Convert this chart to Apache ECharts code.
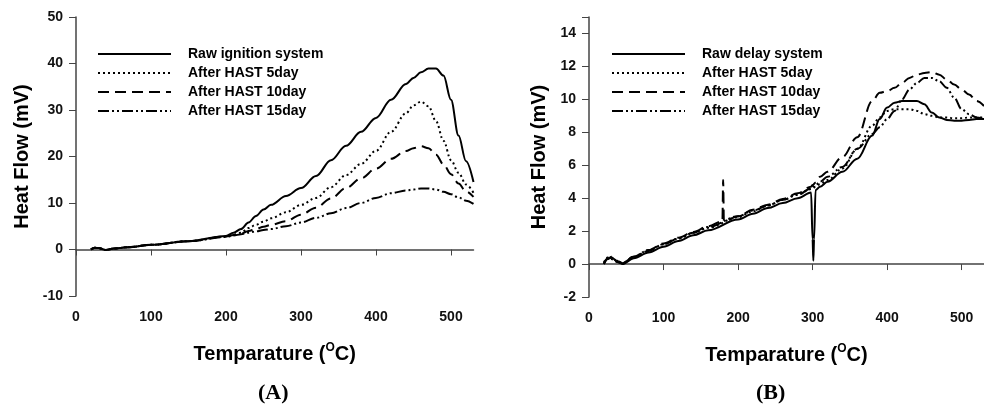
<!DOCTYPE html>
<html>
<head>
<meta charset="utf-8">
<script src="https://cdn.jsdelivr.net/npm/echarts@6/dist/echarts.min.js"></script>
<style>
  html, body { margin: 0; padding: 0; background: #fff; }
  #chart { width: 984px; height: 412px; }
</style>
</head>
<body>
<div id="chart"></div>
<script>
// (A) ignition system
var tempA = [20, 25, 30, 40, 50, 70, 100, 150, 200, 210, 220, 230, 240, 250, 260, 280, 300, 320, 340, 360, 380, 400, 420, 440, 450, 460, 470, 480, 490, 500, 510, 520, 530];
var rawA = [0, 0.4, 0.3, -0.1, 0.2, 0.5, 1.0, 1.8, 2.9, 3.6, 4.4, 5.8, 7.2, 8.6, 9.6, 11.5, 13.2, 15.8, 19.2, 22.3, 25.3, 28.3, 32.2, 35.6, 36.9, 38.1, 38.9, 38.9, 37.4, 32.2, 24.5, 19.0, 14.5];
var day5A = [0, 0.4, 0.3, -0.1, 0.2, 0.5, 1.0, 1.8, 2.8, 3.2, 3.6, 4.6, 5.3, 6.0, 6.7, 8.0, 9.6, 11.1, 13.4, 16.0, 18.4, 21.2, 25.3, 29.3, 31.0, 31.8, 30.8, 27.6, 23.4, 19.2, 16.5, 14.0, 12.2];
var day10A = [0, 0.4, 0.3, -0.1, 0.2, 0.5, 1.0, 1.8, 2.8, 3.1, 3.4, 4.0, 4.4, 4.9, 5.3, 6.1, 7.5, 9.0, 11.0, 13.2, 15.3, 17.4, 19.5, 21.2, 21.8, 22.2, 21.8, 20.4, 18.3, 16.2, 14.2, 12.5, 11.3];
var day15A = [0, 0.4, 0.3, -0.1, 0.2, 0.5, 1.0, 1.8, 2.7, 3.0, 3.3, 3.6, 3.9, 4.2, 4.4, 5.0, 5.8, 6.8, 7.8, 8.9, 10.0, 11.1, 12.1, 12.7, 12.9, 13.1, 13.1, 12.9, 12.4, 11.9, 11.2, 10.5, 9.8];

// (B) delay system
var tempB = [20, 25, 30, 40, 45, 60, 80, 100, 120, 140, 160, 179, 180, 181, 200, 220, 240, 260, 280, 298, 300, 301, 302, 304, 310, 320, 340, 360, 380, 390, 400, 410, 420, 430, 440, 450, 460, 470, 480, 490, 500, 510, 520, 530];
var rawB = [0, 0.3, 0.4, 0.1, 0, 0.35, 0.7, 1.05, 1.4, 1.75, 2.05, null, null, null, 2.7, 3.05, 3.4, 3.7, 4.0, 4.35, 1.5, 0.2, 1.5, 4.5, 4.7, 5.0, 5.6, 6.4, 7.8, 8.8, 9.5, 9.8, 9.9, 9.9, 9.9, 9.7, 9.2, 8.9, 8.75, 8.7, 8.7, 8.75, 8.8, 8.8];
var day5B = [0.1, 0.4, 0.3, 0.1, 0.05, 0.45, 0.85, 1.2, 1.55, 1.9, 2.2, null, null, null, 2.85, 3.2, 3.55, 3.9, 4.25, 4.55, 4.6, null, null, 4.7, 4.85, 5.1, 5.8, 7.0, 8.4, 8.9, 9.3, 9.4, 9.4, 9.4, 9.3, 9.1, 9.0, 8.9, 8.9, 8.85, 8.85, 8.9, 8.9, 8.9];
var day10B = [0, 0.3, 0.45, 0.15, 0.05, 0.45, 0.85, 1.25, 1.6, 1.95, 2.3, 2.6, 5.1, 2.6, 2.9, 3.3, 3.6, 3.95, 4.3, 4.7, 4.8, null, null, 4.95, 5.3, 5.6, 6.5, 7.7, 9.9, 10.4, 10.5, 10.7, 11.0, 11.3, 11.5, 11.6, 11.65, 11.5, 11.2, 10.9, 10.6, 10.3, 9.9, 9.6];
var day15B = [0.05, 0.35, 0.4, 0.1, 0.05, 0.45, 0.8, 1.2, 1.55, 1.9, 2.25, null, null, null, 2.9, 3.25, 3.55, 3.9, 4.2, 4.6, 4.7, null, null, 4.8, 5.0, 5.3, 5.9, 7.0, 7.9, 8.3, 8.8, 9.3, 10.0, 10.6, 11.0, 11.3, 11.3, 11.1, 10.7, 10.1, 9.4, 9.1, 8.9, 8.8];

var namesA = ['Raw ignition system', 'After HAST 5day', 'After HAST 10day', 'After HAST 15day'];
var namesB = ['Raw delay system', 'After HAST 5day', 'After HAST 10day', 'After HAST 15day'];

// 线型: 实线, 点线, 虚线, 点划线
var dashes = ['solid', [2, 3], [11, 6], [11, 3, 2, 3, 2, 3]];

function pairs(xs, ys) {
  var out = [];
  for (var i = 0; i < xs.length; i++) {
    if (ys[i] !== null) out.push([xs[i], ys[i]]);
  }
  return out;
}

function lineSeries(name, idx, xs, ys, style) {
  return {
    name: name,
    type: 'line',
    xAxisIndex: idx,
    yAxisIndex: idx,
    data: pairs(xs, ys),
    symbol: 'none',
    smooth: 0.35,
    smoothMonotone: 'x',
    animation: false,
    itemStyle: { color: '#000' },
    lineStyle: { color: '#000', width: 2, type: style }
  };
}

var font = 'Arial, "Liberation Sans", sans-serif';
var tickText = { color: '#111', fontWeight: 'bold', fontSize: 14, fontFamily: font };

function xAx(idx) {
  return {
    type: 'value', gridIndex: idx, min: 0, max: 530, interval: 100,
    name: 'Temparature ({sup|O}C)',
    nameLocation: 'middle', nameGap: 46,
    nameTextStyle: {
      color: '#000', fontWeight: 'bold', fontSize: 20, fontFamily: font, lineHeight: 24,
      rich: { sup: { fontSize: 12, fontWeight: 'bold', fontFamily: font, verticalAlign: 'top', lineHeight: 14, padding: [0, 0, 8, 0] } }
    },
    axisLine: { lineStyle: { color: '#444', width: 1.5 } },
    axisTick: { show: true, length: 6, lineStyle: { color: '#444' } },
    axisLabel: Object.assign({ margin: 14, showMaxLabel: false }, tickText),
    splitLine: { show: false }
  };
}

function yAx(idx, min, max, step, gap) {
  return {
    type: 'value', gridIndex: idx, min: min, max: max, interval: step,
    name: 'Heat Flow (mV)',
    nameLocation: 'middle', nameGap: gap,
    nameTextStyle: { color: '#000', fontWeight: 'bold', fontSize: 20, fontFamily: font },
    axisLine: { show: true, lineStyle: { color: '#444', width: 1.5 } },
    axisTick: { show: true, length: 7, lineStyle: { color: '#444' } },
    // 顶端不在刻度上的最大值不显示
    axisLabel: Object.assign({ margin: 13, formatter: function (v) { return (v - min) % step === 0 ? v : ''; } }, tickText),
    splitLine: { show: false }
  };
}

function legendAt(left, data) {
  return {
    left: left, top: 42, orient: 'vertical',
    itemWidth: 73, itemHeight: 14, itemGap: 5,
    data: data,
    itemStyle: { opacity: 0 },
    textStyle: { color: '#000', fontWeight: 'bold', fontSize: 14, fontFamily: font, padding: [0, 0, 0, 12] }
  };
}

var myChart = echarts.init(document.getElementById('chart'));
var option = {
  backgroundColor: '#fff',
  grid: [
    { left: 76, top: 17, width: 397.5, height: 279 },
    { left: 589, top: 17, width: 400, height: 280 }
  ],
  xAxis: [xAx(0), xAx(1)],
  yAxis: [yAx(0, -10, 50, 10, 44), yAx(1, -2, 15, 2, 40)],
  legend: [legendAt(92, namesA), legendAt(606, namesB)],
  series: [
    lineSeries(namesA[0], 0, tempA, rawA, dashes[0]),
    lineSeries(namesA[1], 0, tempA, day5A, dashes[1]),
    lineSeries(namesA[2], 0, tempA, day10A, dashes[2]),
    lineSeries(namesA[3], 0, tempA, day15A, dashes[3]),
    lineSeries(namesB[0], 1, tempB, rawB, dashes[0]),
    lineSeries(namesB[1], 1, tempB, day5B, dashes[1]),
    lineSeries(namesB[2], 1, tempB, day10B, dashes[2]),
    lineSeries(namesB[3], 1, tempB, day15B, dashes[3])
  ],
  graphic: [
    { type: 'text', left: 258, top: 382, style: { text: '(A)', fill: '#000', font: 'bold 22px "Liberation Serif", "Times New Roman", serif' } },
    { type: 'text', left: 756, top: 382, style: { text: '(B)', fill: '#000', font: 'bold 22px "Liberation Serif", "Times New Roman", serif' } }
  ]
};
myChart.setOption(option);
</script>
</body>
</html>
